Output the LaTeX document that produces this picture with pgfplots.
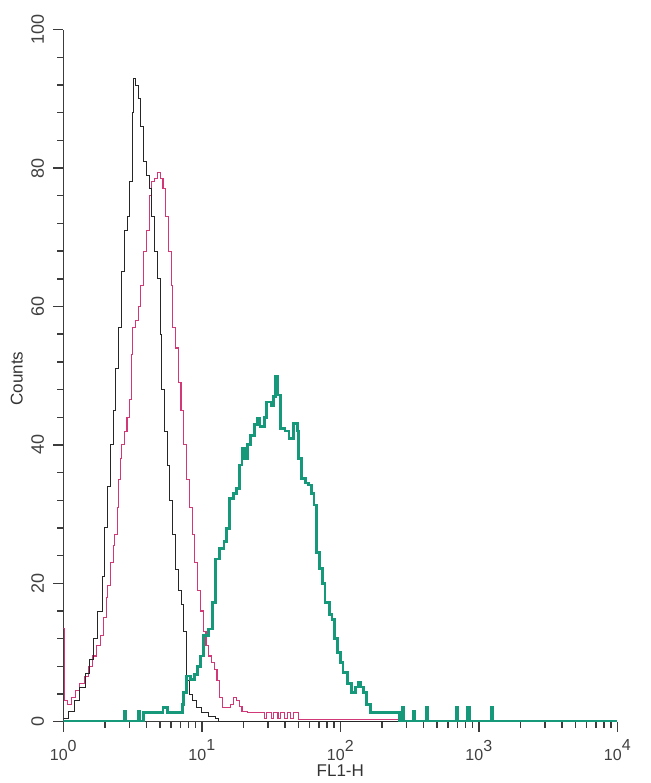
\documentclass[border=0pt]{standalone}
\usepackage{pgfplots}
\pgfplotsset{compat=1.18}
\usepackage{pgfplotstable}
\usepackage{fontspec}
\setmainfont{Liberation Sans}
\definecolor{tealc}{RGB}{22,152,122}
\definecolor{magc}{RGB}{210,55,120}
\definecolor{axc}{RGB}{60,60,60}

\pgfplotstableread{
lx y
0.00 0.5
0.04 1.5
0.08 3
0.12 5
0.16 7
0.19 9
0.22 12
0.25 16
0.28 21
0.30 28
0.32 34
0.34 40
0.36 45
0.38 51
0.40 57
0.42 65
0.44 71
0.46 73
0.48 78
0.50 88
0.51 93
0.52 92
0.54 90
0.56 86
0.58 81
0.60 79
0.62 77
0.64 73
0.66 68
0.68 64
0.70 56
0.71 48
0.73 42
0.75 37
0.77 32
0.79 27
0.81 22
0.83 19
0.85 17
0.87 13
0.89 6
0.91 4
0.93 3
0.96 2
1.00 1.3
1.05 0.8
1.10 0.4
1.12 0
4.00 0
}\blackdata

\pgfplotstableread{
lx y
0.000 13.5
0.008 3
0.03 2.5
0.06 3.5
0.09 4.5
0.12 5.5
0.15 6.5
0.18 8
0.21 9.5
0.24 11
0.27 12.4
0.29 15
0.31 18
0.32 19.7
0.34 23
0.36 25.5
0.37 27
0.39 31
0.40 35
0.41 38
0.42 40
0.44 42
0.46 44
0.48 46.5
0.49 53
0.50 57
0.52 58
0.54 60
0.56 63
0.58 68
0.60 71
0.62 76
0.64 78
0.66 78.5
0.68 79.3
0.70 78.5
0.72 77
0.74 73
0.76 68
0.78 63
0.79 57
0.81 54
0.83 49
0.85 45
0.87 40
0.89 35
0.91 31
0.93 27
0.95 23
0.97 19
0.99 16
1.01 13
1.03 11
1.05 9.5
1.07 8.5
1.09 7.5
1.11 6
1.13 3.5
1.15 2
1.18 2
1.21 2.5
1.23 3.5
1.25 3
1.27 2.2
1.29 1.5
1.33 1.3
1.43 1.3
1.45 0.4
1.47 1.3
1.50 0.4
1.52 1.3
1.55 0.4
1.57 1.3
1.60 0.4
1.62 1.3
1.64 0.4
1.66 1.3
1.70 0.3
2.42 0.3
2.44 0
4.00 0
}\magdata

\pgfplotstableread{
lx y
0.00 0
0.43 0
0.44 1.5
0.45 0
0.53 0
0.54 1.5
0.55 0
0.58 1.3
0.70 1.3
0.72 2
0.75 1.3
0.84 1.3
0.86 2.5
0.87 4.2
0.89 6.6
0.92 6.1
0.95 6.8
0.97 8
0.99 9.5
1.01 12.4
1.05 13.4
1.08 17.2
1.10 23.5
1.13 25
1.16 26
1.18 27.9
1.20 32.2
1.23 33
1.25 33.7
1.27 37.1
1.29 39.5
1.31 38
1.33 40
1.35 41.4
1.38 43
1.40 43.8
1.42 42.7
1.45 44
1.47 46.2
1.50 45.7
1.52 47
1.53 49.9
1.55 47.2
1.57 42.4
1.60 42
1.63 40.9
1.66 43.1
1.69 42
1.70 38
1.72 35.1
1.75 34.5
1.77 34.2
1.79 33
1.81 31.3
1.83 24.5
1.85 22.1
1.87 20
1.89 17.2
1.92 15.5
1.94 14.8
1.96 12
1.98 10
2.00 8.5
2.02 7.1
2.05 5.5
2.08 4.2
2.11 5
2.13 5.7
2.15 5
2.17 4.2
2.19 2.5
2.22 1.3
2.41 1.3
2.43 0
2.45 2
2.46 0
2.52 0
2.53 1.5
2.54 0
2.61 0
2.62 2
2.63 0
2.83 0
2.84 2
2.85 0
2.91 0
2.92 2
2.93 0
3.08 0
3.09 2
3.10 0
4.00 0
}\tealdata

\newcommand{\tl}[1]{10\raisebox{0.62em}{#1}}

\begin{document}
\begin{tikzpicture}
\begin{axis}[
  name=ax,
  at={(0pt,0pt)}, anchor=south west,
  scale only axis,
  width=554pt, height=692pt,
  xmin=0, xmax=4, ymin=0, ymax=100,
  axis x line=bottom, axis y line=left,
  axis line style={-, line width=1.5pt, axc},
  tick align=outside,
  major tick length=10pt, minor tick length=6pt,
  every tick/.style={line width=1.4pt, axc},
  xtick={0,1,2,3,4},
  xticklabels={\tl{0},\tl{1},\tl{2},\tl{3},\tl{4}},
  minor xtick={0.301,0.477,0.602,0.699,0.778,0.845,0.903,0.954,
               1.301,1.477,1.602,1.699,1.778,1.845,1.903,1.954,
               2.301,2.477,2.602,2.699,2.778,2.845,2.903,2.954,
               3.301,3.477,3.602,3.699,3.778,3.845,3.903,3.954},
  ytick={0,20,40,60,80,100},
  yticklabels={0,20,40,60,80,100},
  minor ytick={4,8,12,16,24,28,32,36,44,48,52,56,64,68,72,76,84,88,92,96},
  ticklabel style={text=black!75},
  xticklabel style={font=\fontsize{16}{18}\selectfont, anchor=north, inner sep=0pt, yshift=-8pt},
  yticklabel style={font=\fontsize{18}{20}\selectfont, rotate=90, anchor=south, inner sep=0pt, yshift=9pt},
  xlabel={FL1-H},
  label style={font=\fontsize{17}{19}\selectfont, text=black!80},
  xlabel style={at={(axis description cs:0.5,0)}, anchor=north, inner sep=0pt, yshift=-43pt},
]
\addplot[const plot, magc, line width=1.1pt] table[x=lx, y=y] {\magdata};
\addplot[const plot, black!85, line width=0.9pt] table[x=lx, y=y] {\blackdata};
\addplot[const plot, tealc, line width=2.8pt] table[x=lx, y=y] {\tealdata};
\end{axis}
\node[rotate=90, anchor=south, inner sep=0pt, font=\fontsize{17}{19}\selectfont, text=black!80]
  at ([xshift=-40.3pt,yshift=-3pt]ax.west) {Counts};
\pgfresetboundingbox
\path (-63.3pt,-61.3pt) rectangle (586.7pt,721.7pt);
\end{tikzpicture}
\end{document}
